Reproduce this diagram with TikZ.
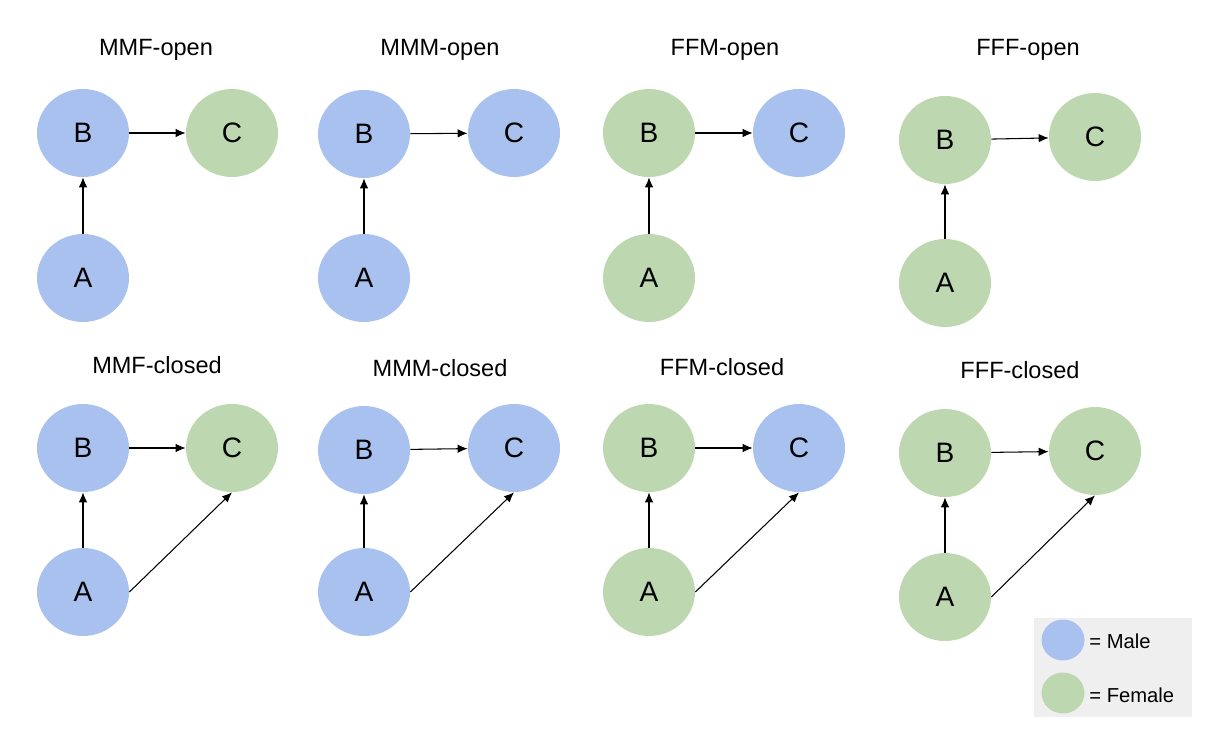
\documentclass[tikz,border=0pt]{standalone}
\usepackage{fontspec}
\setmainfont{Liberation Sans}
\usetikzlibrary{arrows.meta,shapes.geometric}
\definecolor{male}{HTML}{A9C1EF}
\definecolor{female}{HTML}{BDD8B0}
\definecolor{legendbg}{HTML}{EFEFEF}
\tikzset{
	bird/.style={ellipse, minimum width=1.84cm, minimum height=1.76cm, inner sep=0pt, font=\fontsize{16}{19}\selectfont},
	m/.style={bird, fill=male},
	f/.style={bird, fill=female},
	title/.style={font=\fontsize{13.4}{16}\selectfont},
	edge/.style={line width=0.6pt, -{Latex[length=2mm,width=1.7mm]}},
}

\begin{document}
\begin{tikzpicture}[x=0.02cm, y=-0.02cm]
		%%%%% START %%%%%
		\useasboundingbox (0, 0) rectangle (1230, 750);
		
		% open triads
		\node[title] (t1) at (156, 50) {MMF-open};
		\node[m] (b1) at (83, 133) {B};
		\node[f] (c1) at (232, 133) {C};
		\node[m] (a1) at (83, 278) {A};
		\draw[edge] (b1) -- (c1);
		\draw[edge] (a1) -- (b1);
		
		\node[title] (t2) at (440, 50) {MMM-open};
		\node[m] (b2) at (364, 134) {B};
		\node[m] (c2) at (514, 133) {C};
		\node[m] (a2) at (364, 278) {A};
		\draw[edge] (b2) -- (c2);
		\draw[edge] (a2) -- (b2);
		
		\node[title] (t3) at (725, 50) {FFM-open};
		\node[f] (b3) at (649, 133) {B};
		\node[m] (c3) at (799, 133) {C};
		\node[f] (a3) at (649, 278) {A};
		\draw[edge] (b3) -- (c3);
		\draw[edge] (a3) -- (b3);
		
		\node[title] (t4) at (1028, 50) {FFF-open};
		\node[f] (b4) at (945, 140) {B};
		\node[f] (c4) at (1095, 137) {C};
		\node[f] (a4) at (945, 283) {A};
		\draw[edge] (b4) -- (c4);
		\draw[edge] (a4) -- (b4);
		
		% closed triads
		\node[title] (t5) at (157, 365) {MMF-closed};
		\node[m] (b5) at (83, 448) {B};
		\node[f] (c5) at (232, 448) {C};
		\node[m] (a5) at (83, 592) {A};
		\draw[edge] (b5) -- (c5);
		\draw[edge] (a5) -- (b5);
		\draw[edge] (a5.east) -- (c5.south);
		
		\node[title] (t6) at (440, 368) {MMM-closed};
		\node[m] (b6) at (364, 450) {B};
		\node[m] (c6) at (514, 448) {C};
		\node[m] (a6) at (364, 592) {A};
		\draw[edge] (b6) -- (c6);
		\draw[edge] (a6) -- (b6);
		\draw[edge] (a6.east) -- (c6.south);
		
		\node[title] (t7) at (722, 367) {FFM-closed};
		\node[f] (b7) at (649, 448) {B};
		\node[m] (c7) at (799, 448) {C};
		\node[f] (a7) at (649, 592) {A};
		\draw[edge] (b7) -- (c7);
		\draw[edge] (a7) -- (b7);
		\draw[edge] (a7.east) -- (c7.south);
		
		\node[title] (t8) at (1020, 370) {FFF-closed};
		\node[f] (b8) at (945, 453) {B};
		\node[f] (c8) at (1095, 451) {C};
		\node[f] (a8) at (945, 597) {A};
		\draw[edge] (b8) -- (c8);
		\draw[edge] (a8) -- (b8);
		\draw[edge] (a8.east) -- (c8.south);
		
		% legend
		\fill[legendbg] (1034, 618) rectangle (1192, 717);
		\node[ellipse, fill=male, minimum width=0.86cm, minimum height=0.82cm] (male) at (1063, 640) {};
		\node[ellipse, fill=female, minimum width=0.86cm, minimum height=0.82cm] (female) at (1063, 693) {};
		\node[anchor=west, inner sep=0pt, font=\fontsize{11.5}{13}\selectfont] (lm) at (1089, 641) {= Male};
		\node[anchor=west, inner sep=0pt, font=\fontsize{11.5}{13}\selectfont] (lf) at (1089, 695) {= Female};
		
		%%%%% END %%%%%
	\end{tikzpicture}
\end{document}
